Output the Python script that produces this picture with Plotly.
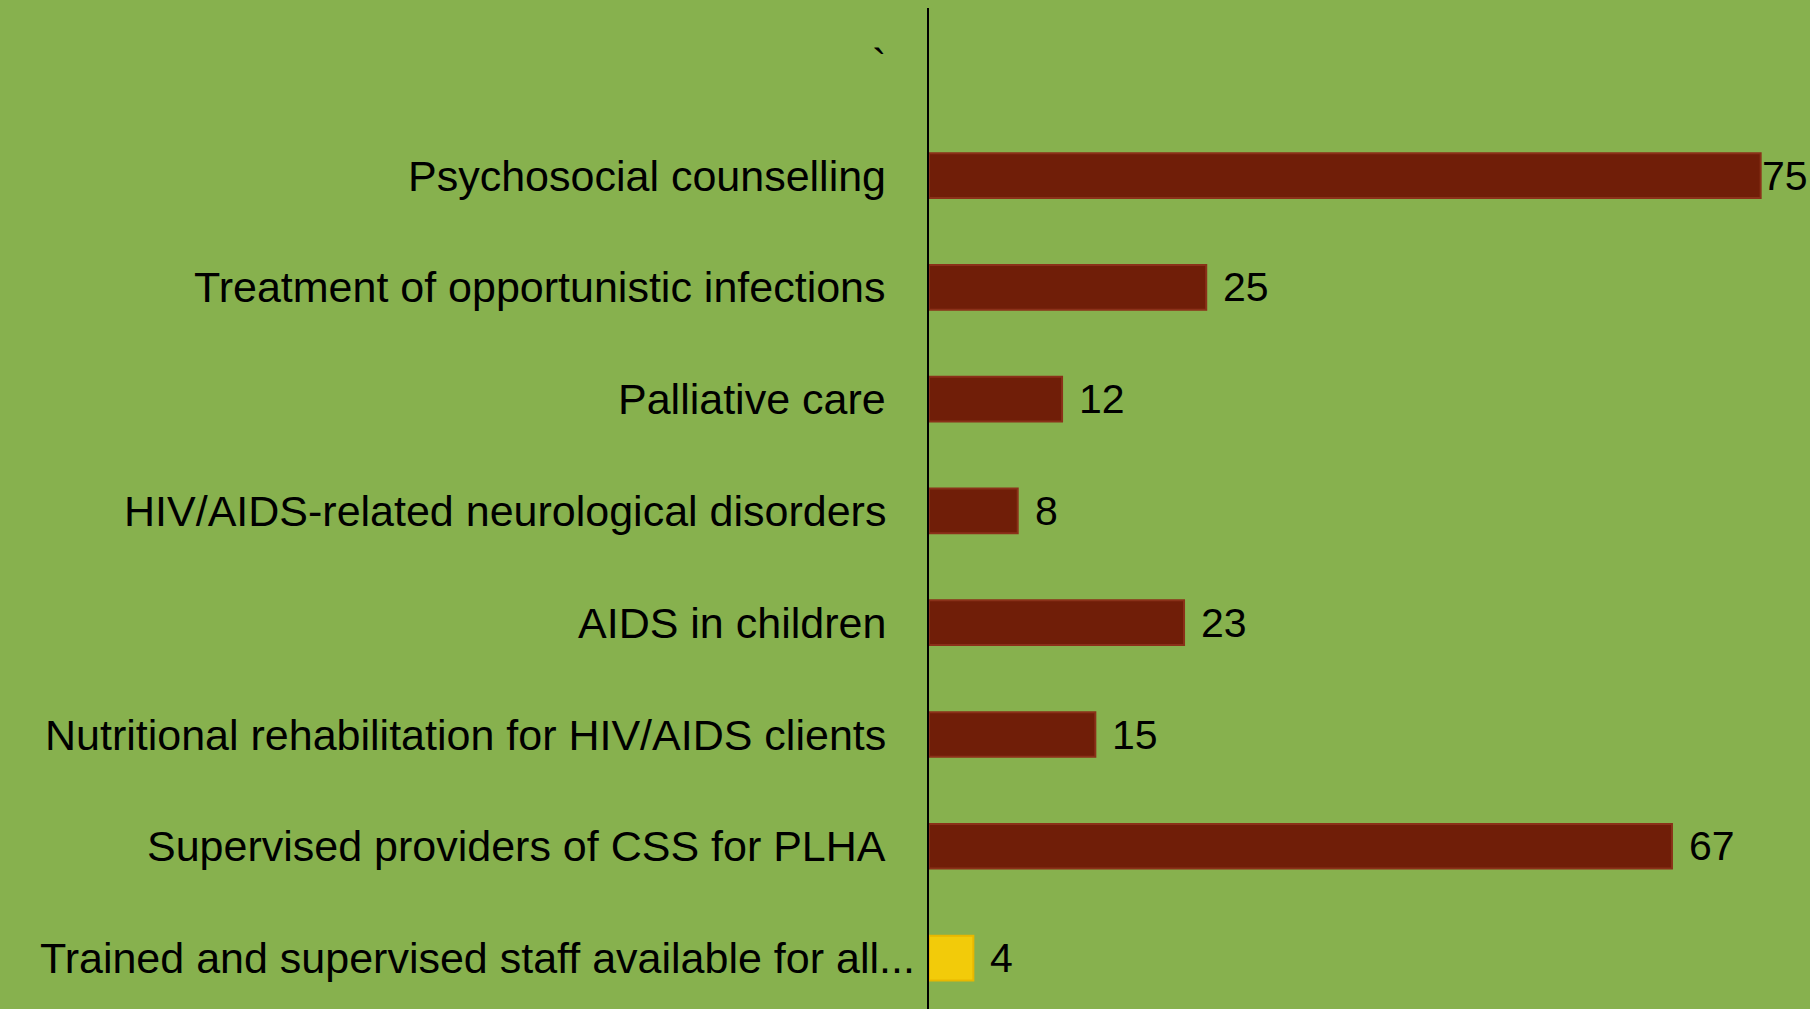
import plotly.graph_objects as go

# Categories listed bottom -> top (first is the bottom bar)
categories = [
    "Trained and supervised staff available for all...",
    "Supervised providers of CSS for PLHA",
    "Nutritional rehabilitation for HIV/AIDS clients",
    "AIDS in children",
    "HIV/AIDS-related neurological disorders",
    "Palliative care",
    "Treatment of opportunistic infections",
    "Psychosocial counselling",
    "`",
]
values = [4, 67, 15, 23, 8, 12, 25, 75, None]
bar_colors = ["#F2CB0A", "#701E08", "#701E08", "#701E08", "#701E08",
              "#701E08", "#701E08", "#701E08", "#701E08"]
line_colors = ["#E8B800", "#8A3119", "#8A3119", "#8A3119", "#8A3119",
               "#8A3119", "#8A3119", "#8A3119", "#8A3119"]

BG = "#87B14E"
FONT = "Liberation Sans"

fig = go.Figure()
fig.add_trace(go.Bar(
    x=values,
    y=categories,
    orientation="h",
    width=0.4,
    marker=dict(color=bar_colors, line=dict(color=line_colors, width=2)),
    hoverinfo="x+y",
))

vmax = max(v for v in values if v is not None)
annotations = []
# category labels (left of the axis)
for i, cat in enumerate(categories):
    annotations.append(dict(
        x=0, y=cat, xref="x", yref="y",
        text=cat, showarrow=False,
        xanchor="right", yanchor="middle",
        xshift=(-12 if i == 0 else -41),
        font=dict(family=FONT, size=43, color="#000000"),
    ))
# value labels
for cat, v in zip(categories, values):
    if v is None:
        continue
    annotations.append(dict(
        x=v, y=cat, xref="x", yref="y",
        text=str(v), showarrow=False,
        xanchor="left", yanchor="middle",
        xshift=(-1 if v == vmax else 15),
        font=dict(family=FONT, size=41, color="#000000"),
    ))

fig.update_layout(
    width=1810, height=1009,
    paper_bgcolor=BG, plot_bgcolor=BG,
    margin=dict(l=929, r=0, t=8, b=0),
    showlegend=False,
    annotations=annotations,
    xaxis=dict(visible=False, range=[0, 79.45], fixedrange=True),
    yaxis=dict(
        type="category",
        categoryorder="array", categoryarray=categories,
        range=[-0.456, 8.5],
        showline=True, linecolor="#000000", linewidth=1.5,
        showgrid=False, zeroline=False, ticks="",
        showticklabels=False,
        automargin=False,
    ),
    font=dict(family=FONT),
)

fig.write_html(
    "out.html",
    config={"displayModeBar": False},
    post_script="document.body.style.margin='0';document.body.style.overflow='hidden';",
)
